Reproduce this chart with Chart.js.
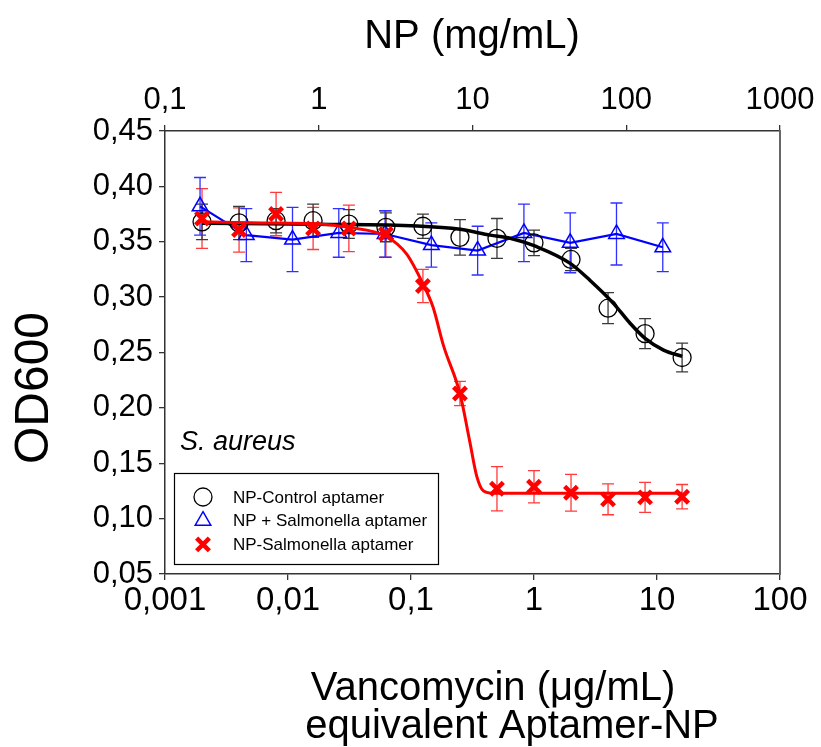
<!DOCTYPE html>
<html>
<head>
<meta charset="utf-8">
<script src="https://cdn.jsdelivr.net/npm/chart.js@4.4.1/dist/chart.umd.min.js"></script>
<style>
  html, body { margin: 0; padding: 0; background: #fff; }
</style>
</head>
<body>
<canvas id="c" width="821" height="747"></canvas>
<script>
// vancomycin dilutions (bottom axis)
const vancX = [0.002, 0.004, 0.008, 0.016, 0.03125, 0.0625, 0.125, 0.25, 0.5, 1, 2, 4, 8, 16];

// NP-Control aptamer
const ctrlY   = [0.368, 0.367, 0.369, 0.369, 0.366, 0.363, 0.364, 0.354, 0.353, 0.349, 0.334, 0.290, 0.267, 0.2455];
const ctrlErr = [0.016, 0.015, 0.011, 0.015, 0.013, 0.013, 0.011, 0.016, 0.018, 0.0115, 0.010, 0.014, 0.0135, 0.013];

// NP-Salmonella aptamer
const salY   = [0.371, 0.3606, 0.375, 0.362, 0.362, 0.357, 0.310, 0.213, 0.127, 0.1288, 0.1234, 0.1174, 0.1192, 0.1198];
const salErr = [0.027, 0.020, 0.0196, 0.019, 0.021, 0.021, 0.015, 0.011, 0.020, 0.0145, 0.0166, 0.0139, 0.0135, 0.011];

// NP + Salmonella aptamer (top axis, NP mg/mL)
const mixX   = [0.169, 0.338, 0.675, 1.35, 2.7, 5.4, 10.8, 21.6, 43.2, 86.4, 172.8];
const mixY   = [0.382, 0.356, 0.352, 0.358, 0.357, 0.347, 0.342, 0.358, 0.349, 0.357, 0.345];
const mixErr = [0.026, 0.024, 0.029, 0.022, 0.021, 0.020, 0.022, 0.026, 0.027, 0.028, 0.022];

// fitted curves
const ctrlFitX = [0.002, 0.0172, 0.112, 0.251, 0.44, 0.64, 1.054, 1.97, 2.86, 4.42, 6.04, 8.0, 11.3, 16];
const ctrlFitY = [0.3667, 0.3657, 0.3642, 0.3612, 0.356, 0.3531, 0.3455, 0.3305, 0.315, 0.2944, 0.2764, 0.2628, 0.2522, 0.2465];
const salFitX = [0.002, 0.006, 0.018, 0.031, 0.0625, 0.092, 0.125, 0.151, 0.184, 0.25, 0.30, 0.343, 0.388, 0.45, 0.6, 16];
const salFitY = [0.368, 0.367, 0.366, 0.363, 0.355, 0.339, 0.312, 0.291, 0.256, 0.213, 0.170, 0.138, 0.125, 0.123, 0.1229, 0.1229];

// ticks
const bottomTicks  = [0.001, 0.01, 0.1, 1, 10, 100];
const bottomLabels = ['0,001', '0,01', '0,1', '1', '10', '100'];
const topTicks  = [0.1, 1, 10, 100, 1000];
const topLabels = ['0,1', '1', '10', '100', '1000'];
const yTicks  = [0.05, 0.10, 0.15, 0.20, 0.25, 0.30, 0.35, 0.40, 0.45];
const yLabels = ['0,05', '0,10', '0,15', '0,20', '0,25', '0,30', '0,35', '0,40', '0,45'];

const legendItems = [
  { text: 'NP-Control aptamer', style: 'circle', color: '#000', width: 1.3 },
  { text: 'NP + Salmonella aptamer', style: 'triangle', color: '#0000ff', width: 1.5 },
  { text: 'NP-Salmonella aptamer', style: 'crossRot', color: '#ff0000', width: 4.5 }
];

const FONT = "'Liberation Sans', Arial, sans-serif";
const pts = (xs, ys) => xs.map((x, i) => ({ x: x, y: ys[i] }));

const errorBars = {
  id: 'errorBars',
  beforeDatasetsDraw(chart) {
    const ctx = chart.ctx;
    const ys = chart.scales.y;
    chart.data.datasets.forEach(ds => {
      if (!ds.errors) return;
      const xs = chart.scales[ds.xAxisID || 'x'];
      ctx.save();
      ctx.strokeStyle = ds.errorColor;
      ctx.lineWidth = 1.3;
      ds.data.forEach((p, j) => {
        const px = xs.getPixelForValue(p.x);
        const t = ys.getPixelForValue(p.y + ds.errors[j]);
        const b = ys.getPixelForValue(p.y - ds.errors[j]);
        ctx.beginPath();
        ctx.moveTo(px, t); ctx.lineTo(px, b);
        ctx.moveTo(px - 6, t); ctx.lineTo(px + 6, t);
        ctx.moveTo(px - 6, b); ctx.lineTo(px + 6, b);
        ctx.stroke();
      });
      ctx.restore();
    });
  }
};

const extras = {
  id: 'extras',
  afterDraw(chart) {
    const ctx = chart.ctx;
    ctx.save();
    ctx.fillStyle = '#000';
    // axis titles
    ctx.textAlign = 'center';
    ctx.textBaseline = 'middle';
    ctx.font = '40px ' + FONT;
    ctx.fillText('NP (mg/mL)', 472, 37);
    ctx.textBaseline = 'alphabetic';
    ctx.fillText('Vancomycin (\u03bcg/mL)', 493, 700);
    ctx.fillText('equivalent Aptamer-NP', 512, 738);
    ctx.save();
    ctx.translate(35, 388);
    ctx.rotate(-Math.PI / 2);
    ctx.textBaseline = 'middle';
    ctx.font = '48px ' + FONT;
    ctx.fillText('OD600', 0, 0);
    ctx.restore();

    ctx.textAlign = 'left';
    ctx.font = 'italic 27px ' + FONT;
    ctx.fillText('S. aureus', 180, 450);

    // legend box
    ctx.fillStyle = '#fff';
    ctx.fillRect(174, 473, 264, 91);
    ctx.strokeStyle = '#000';
    ctx.lineWidth = 1.2;
    ctx.strokeRect(174.5, 473.5, 264, 91);
    ctx.font = '17px ' + FONT;
    ctx.textBaseline = 'middle';
    legendItems.forEach((it, i) => {
      const y = 497 + i * 23.7;
      ctx.strokeStyle = it.color;
      ctx.fillStyle = 'rgba(0,0,0,0)';
      ctx.lineWidth = it.width;
      Chart.helpers.drawPoint(ctx, { pointStyle: it.style, radius: 9, rotation: 0, borderWidth: it.width }, 203, y);
      ctx.fillStyle = '#000';
      ctx.fillText(it.text, 233, y + 1);
    });
    ctx.restore();
  }
};

const tickGrid = { display: true, drawOnChartArea: false, drawTicks: true, tickLength: 6, color: '#333', lineWidth: 1.3 };

new Chart(document.getElementById('c'), {
  type: 'scatter',
  data: {
    datasets: [
      {
        label: 'NP-Salmonella aptamer',
        data: pts(vancX, salY),
        errors: salErr, errorColor: '#ff3a3a',
        showLine: false,
        pointStyle: 'crossRot', pointRadius: 9, pointBorderWidth: 4.5,
        pointBorderColor: '#ff0000', pointBackgroundColor: 'rgba(0,0,0,0)'
      },
      {
        label: 'sal fit',
        data: pts(salFitX, salFitY),
        showLine: true, pointRadius: 0,
        borderColor: '#ff0000', borderWidth: 3,
        cubicInterpolationMode: 'monotone'
      },
      {
        label: 'NP-Control aptamer',
        data: pts(vancX, ctrlY),
        errors: ctrlErr, errorColor: '#3a3a3a',
        showLine: false,
        pointStyle: 'circle', pointRadius: 9, pointBorderWidth: 1.3,
        pointBorderColor: '#000', pointBackgroundColor: 'rgba(0,0,0,0)'
      },
      {
        label: 'ctrl fit',
        data: pts(ctrlFitX, ctrlFitY),
        showLine: true, pointRadius: 0,
        borderColor: '#000', borderWidth: 3.5,
        cubicInterpolationMode: 'monotone'
      },
      {
        label: 'NP + Salmonella aptamer',
        data: pts(mixX, mixY),
        xAxisID: 'x2',
        errors: mixErr, errorColor: '#3030ff',
        showLine: true, borderColor: '#0000ff', borderWidth: 2.2,
        pointStyle: 'triangle', pointRadius: 9, pointBorderWidth: 1.5,
        pointBorderColor: '#0000ff', pointBackgroundColor: 'rgba(0,0,0,0)'
      }
    ]
  },
  options: {
    responsive: false,
    animation: false,
    layout: { padding: 0 },
    plugins: { legend: { display: false }, tooltip: { enabled: false } },
    scales: {
      x: {
        type: 'logarithmic', position: 'bottom', min: 0.001, max: 100,
        afterBuildTicks: s => { s.ticks = bottomTicks.map(v => ({ value: v })); },
        afterFit: s => { s.height = 173; },
        ticks: {
          autoSkip: false, maxRotation: 0, padding: 1, color: '#000',
          font: { family: FONT, size: 33 },
          callback: (v, i) => bottomLabels[i]
        },
        grid: tickGrid,
        border: { display: true, color: '#333', width: 1.5 }
      },
      x2: {
        type: 'logarithmic', position: 'top', min: 0.1, max: 1000,
        afterBuildTicks: s => { s.ticks = topTicks.map(v => ({ value: v })); },
        afterFit: s => { s.height = 131; },
        ticks: {
          autoSkip: false, maxRotation: 0, padding: 6, color: '#000',
          font: { family: FONT, size: 31 },
          callback: (v, i) => topLabels[i]
        },
        grid: tickGrid,
        border: { display: true, color: '#333', width: 1.5 }
      },
      y: {
        type: 'linear', position: 'left', min: 0.05, max: 0.45,
        afterBuildTicks: s => { s.ticks = yTicks.map(v => ({ value: v })); },
        afterFit: s => { s.width = 165; },
        ticks: {
          autoSkip: false, padding: 6, color: '#000',
          font: { family: FONT, size: 31 },
          callback: (v, i) => yLabels[i]
        },
        grid: tickGrid,
        border: { display: true, color: '#333', width: 1.5 }
      },
      y2: {
        type: 'linear', position: 'right', min: 0.05, max: 0.45,
        afterFit: s => { s.width = 41; },
        ticks: { display: false },
        grid: { display: false },
        border: { display: true, color: '#666', width: 2 }
      }
    }
  },
  plugins: [errorBars, extras]
});
</script>
</body>
</html>
